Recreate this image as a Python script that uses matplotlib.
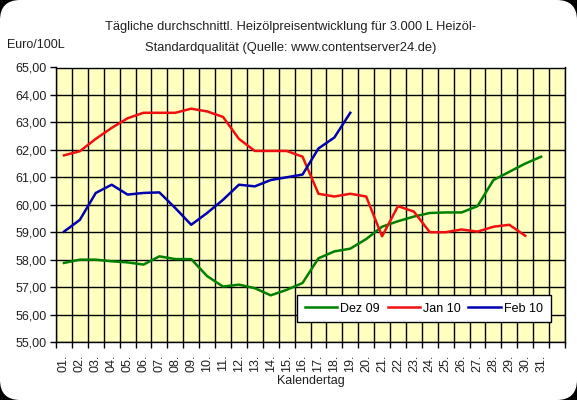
import numpy as np
import matplotlib
matplotlib.use('Agg')
from matplotlib import pyplot as plt
from matplotlib.patches import FancyBboxPatch

# data
days = ['%02d.' % d for d in range(1, 32)]
dez09 = [57.88, 58.0, 58.0, 57.94, 57.9, 57.82, 58.12, 58.02, 58.02, 57.4,
         57.02, 57.09, 56.96, 56.7, 56.9, 57.15, 58.05, 58.3, 58.4, 58.75,
         59.2, 59.4, 59.57, 59.7, 59.72, 59.72, 59.95, 60.9, 61.2, 61.5, 61.75]
jan10 = [61.8, 61.95, 62.4, 62.8, 63.15, 63.35, 63.35, 63.35, 63.5, 63.4,
         63.2, 62.4, 61.96, 61.96, 61.96, 61.75, 60.4, 60.3, 60.4, 60.3,
         58.85, 59.95, 59.75, 59.0, 59.0, 59.1, 59.02, 59.2, 59.27, 58.87]
feb10 = [59.02, 59.45, 60.43, 60.73, 60.37, 60.43, 60.45, 59.88, 59.27, 59.7,
         60.18, 60.73, 60.67, 60.9, 61.0, 61.1, 62.05, 62.45, 63.35]

plt.rcParams['font.family'] = ['Liberation Sans', 'DejaVu Sans']
fs = 9
txt = '#202020'

fig = plt.figure(figsize=(5.77, 4.0), dpi=100, facecolor='black')
# rounded white card on black corners
card = FancyBboxPatch((0.0, 0.0), 1.0, 1.0, boxstyle='round,pad=0,rounding_size=0.035',
                      transform=fig.transFigure, facecolor='white', edgecolor='none',
                      mutation_aspect=577 / 400, zorder=-10)
fig.patches.append(card)

ax = fig.add_axes([56 / 577, 1 - 342 / 400, (565 - 56) / 577, (342 - 67.5) / 400])
ax.set_facecolor('#FFFFC0')

x1 = np.arange(1, len(dez09) + 1)
x2 = np.arange(1, len(jan10) + 1)
x3 = np.arange(1, len(feb10) + 1)
ax.plot(x1, dez09, color='#008000', lw=1.8, label='Dez 09')
ax.plot(x2, jan10, color='#F01010', lw=1.8, label='Jan 10')
ax.plot(x3, feb10, color='#0000B0', lw=1.8, label='Feb 10')

ax.set_xlim(0.5, 32.5)
ax.set_ylim(55, 65)
ax.set_xticks(np.arange(1, 32))
ax.set_xticklabels(days, rotation=90, fontsize=fs, color=txt)
ax.set_xticks(np.arange(0.5, 33), minor=True)
ax.tick_params(axis='x', which='major', length=0, pad=9)
ax.tick_params(axis='x', which='minor', length=4, width=1, direction='out')
ax.set_yticks(np.arange(55, 66))
ax.set_yticklabels(['%d,00' % v for v in range(55, 66)], fontsize=fs, color=txt)
ax.tick_params(axis='y', length=4, width=1, direction='out', pad=3)
ax.grid(True, which='minor', axis='x', color='black', lw=1)
ax.grid(True, which='major', axis='y', color='black', lw=1)
for s in ax.spines.values():
    s.set_color('black')
    s.set_linewidth(1)

ax.set_xlabel('Kalendertag', fontsize=fs, labelpad=2, color=txt)
fig.text(0.503, 0.932, 'Tägliche durchschnittl. Heizölpreisentwicklung für 3.000 L Heizöl-',
         ha='center', va='center', fontsize=9.3, color=txt)
fig.text(0.503, 0.88, 'Standardqualität (Quelle: www.contentserver24.de)',
         ha='center', va='center', fontsize=9.3, color=txt)
fig.text(0.012, 0.887, 'Euro/100L', ha='left', va='center', fontsize=fs, color=txt)

leg = ax.legend(loc='lower right', ncol=3, fontsize=fs, frameon=True, fancybox=False,
                bbox_to_anchor=(0.984, 0.05), handlelength=2.6, handletextpad=0.25,
                columnspacing=0.6, borderpad=0.6)
leg.get_frame().set_edgecolor('black')
leg.get_frame().set_linewidth(1)
leg.get_frame().set_facecolor('white')
leg.get_frame().set_alpha(1)

fig.savefig('out.png', dpi=100, facecolor=fig.get_facecolor())
